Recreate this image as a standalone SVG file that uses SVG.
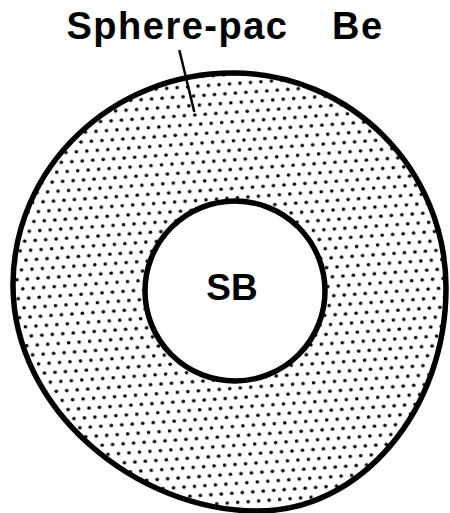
<svg xmlns="http://www.w3.org/2000/svg" width="450" height="513" viewBox="0 0 450 513">
  <style>
    .lbl { font-family: "Liberation Sans", Arial, Helvetica, sans-serif; font-weight: bold; fill: #000; }
    .ring { stroke: #000; stroke-width: 5.5; }
  </style>
  <defs>
    <pattern id="dots" patternUnits="userSpaceOnUse" width="10.5" height="19" patternTransform="rotate(-4)">
      <circle cx="2.6" cy="4.75" r="1.8" fill="#000"/>
      <circle cx="7.85" cy="14.25" r="1.8" fill="#000"/>
    </pattern>
  </defs>
  <rect x="0" y="0" width="450" height="513" fill="#fff"/>
  <g id="outer-sphere-pac-be">
    <path class="ring" fill="#fff" d="M233,73 C350.6,73 446,169 446,288 C446,411 360.5,511 258,511 C136,511 13,409.8 13,285 C13,168 111.5,73 233,73 Z"/>
    <path fill="url(#dots)" d="M233,73 C350.6,73 446,169 446,288 C446,411 360.5,511 258,511 C136,511 13,409.8 13,285 C13,168 111.5,73 233,73 Z"/>
  </g>
  <g id="inner-sb">
    <circle class="ring" cx="235" cy="291" r="90" fill="#fff"/>
    <text class="lbl" x="232" y="300" font-size="37" text-anchor="middle">SB</text>
  </g>
  <g id="label-sphere-pac-be">
    <text class="lbl" x="66.5" y="39" font-size="38" letter-spacing="1.5">Sphere-pac<tspan x="332">Be</tspan></text>
  </g>
  <g id="connectors">
    <line x1="179.3" y1="50" x2="194.3" y2="112" stroke="#000" stroke-width="2.5"/>
  </g>
</svg>
